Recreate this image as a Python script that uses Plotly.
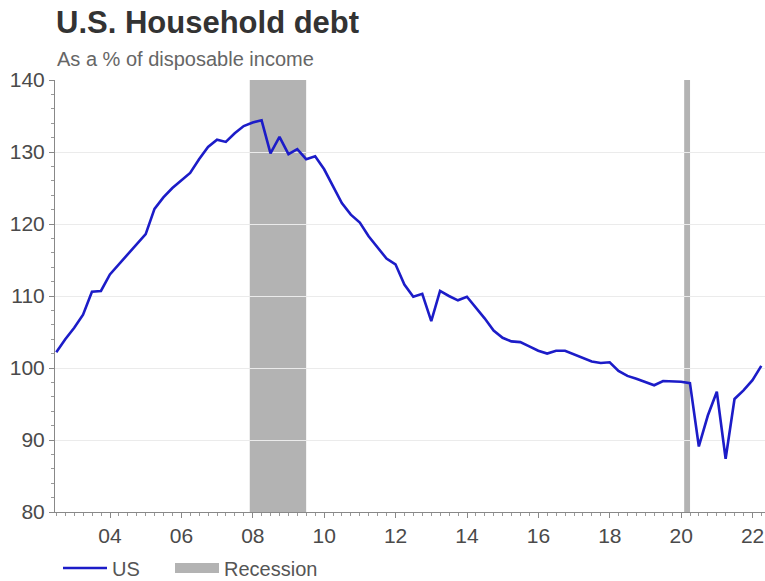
import pandas as pd
import plotly.graph_objects as go

# Quarterly data, Q2 2002 .. Q1 2022 (quarter-end dates)
quarters = pd.date_range("2002-06-30", periods=80, freq="QE")
us_debt = [
    102.2, 104.0, 105.6, 107.4, 110.6, 110.7, 113.0,            # 2002Q2-2003Q4
    114.4, 115.8, 117.1, 118.6,                                  # 2004
    122.1, 123.7, 125.0, 126.0,                                  # 2005
    127.1, 129.0, 130.7, 131.7,                                  # 2006
    131.4, 132.6, 133.6, 134.1,                                  # 2007
    134.4, 129.8, 132.1, 129.7,                                  # 2008
    130.4, 129.0, 129.4, 127.6,                                  # 2009
    125.2, 122.9, 121.3, 120.2,                                  # 2010
    118.3, 116.7, 115.2, 114.4,                                  # 2011
    111.6, 109.9, 110.3, 106.5,                                  # 2012
    110.7, 110.0, 109.4, 109.9,                                  # 2013
    108.4, 106.9, 105.2, 104.2,                                  # 2014
    103.7, 103.6, 103.0, 102.4,                                  # 2015
    102.0, 102.4, 102.4, 101.9,                                  # 2016
    101.3, 100.9, 100.7, 100.8,                                  # 2017
    99.6, 98.9, 98.5, 98.0,                                      # 2018
    97.6, 98.2, 98.2, 98.1,                                      # 2019
    97.9, 89.1, 93.4, 96.7,                                      # 2020
    87.4, 95.7, 96.9, 98.3,                                      # 2021
    100.3,                                                       # 2022Q1
]

recession_start = ["2007-12-01", "2020-02-01"]
recession_end = ["2009-06-30", "2020-04-01"]

title_text = "U.S. Household debt"
subtitle_text = "As a % of disposable income"
y_ticks = [80, 90, 100, 110, 120, 130, 140]

LINE_COLOR = "#1c1cc8"
REC_COLOR = "#b3b3b3"
TEXT_COLOR = "#4a4a4a"
FONT = "Liberation Sans, Arial, sans-serif"

fig = go.Figure()

for s, e in zip(recession_start, recession_end):
    fig.add_vrect(x0=s, x1=e, fillcolor=REC_COLOR, opacity=1,
                  line_width=0, layer="below")

fig.add_trace(go.Scatter(
    x=quarters, y=us_debt, mode="lines", name="US",
    line=dict(color=LINE_COLOR, width=2.6), legend="legend",
))
# legend entry for the recession shading
fig.add_trace(go.Scatter(
    x=[None], y=[None], mode="lines", name="Recession",
    line=dict(color=REC_COLOR, width=14), legend="legend2",
))

legend_common = dict(orientation="h", xanchor="left", yanchor="middle",
                     xref="paper", yref="container", y=1 - 568/581,
                     itemwidth=44, font=dict(size=20, color="#555555", family=FONT),
                     bgcolor="rgba(0,0,0,0)")

fig.update_layout(
    width=765, height=581,
    margin=dict(l=55, r=0, t=80, b=69, autoexpand=False),
    paper_bgcolor="white", plot_bgcolor="white",
    font=dict(family=FONT, color=TEXT_COLOR, size=17),
    title=dict(text="<b>" + title_text + "</b>", xref="container", x=56/765,
               xanchor="left", yref="container", y=1 - 22/581, yanchor="middle",
               font=dict(size=31, color="#333333", family=FONT)),
    annotations=[dict(text=subtitle_text, xref="paper", yref="paper",
                      x=0, xshift=0, y=1 + 21/432, xanchor="left", yanchor="middle",
                      showarrow=False, font=dict(size=20, color="#666666", family=FONT))],
    showlegend=True,
    legend=dict(x=3/710, **legend_common),
    legend2=dict(x=115/710, **legend_common),
)

fig.update_xaxes(
    type="date", range=["2002-06-17", "2022-05-08"],
    tickformat="%y", dtick="M24", tick0="2004-01-01",
    ticks="outside", ticklen=5, tickcolor="#888888",
    showline=True, linecolor="#888888", linewidth=1,
    showgrid=False, zeroline=False,
    tickfont=dict(size=21, color=TEXT_COLOR, family=FONT),
    minor=dict(dtick="M3", ticks="outside", ticklen=3, tickcolor="#999999", showgrid=False),
)
fig.update_yaxes(
    range=[80, 140], tickvals=y_ticks,
    ticks="outside", ticklen=5, tickcolor="#888888",
    showline=True, linecolor="#888888", linewidth=1,
    showgrid=True, gridcolor="#ebebeb", gridwidth=1, zeroline=False,
    tickfont=dict(size=21, color=TEXT_COLOR, family=FONT),
    minor=dict(dtick=2, ticks="outside", ticklen=3, tickcolor="#999999", showgrid=False),
)

fig.write_html("out.html")
